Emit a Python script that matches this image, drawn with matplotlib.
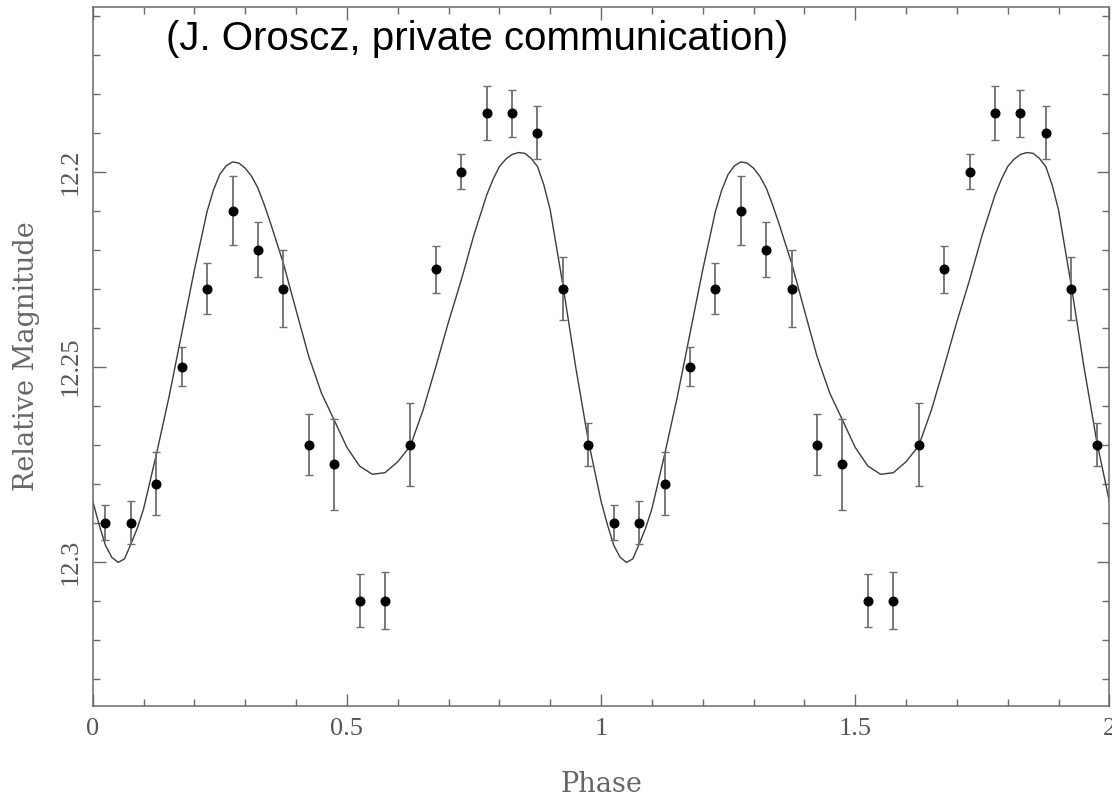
import numpy as np
import matplotlib
matplotlib.use("Agg")
import matplotlib.pyplot as plt
from matplotlib.ticker import MultipleLocator

# Phased photometry: 20 binned points, plotted over two cycles
phase = [0.025, 0.075, 0.125, 0.175, 0.225, 0.275, 0.325, 0.375, 0.425, 0.475,
         0.525, 0.575, 0.625, 0.675, 0.725, 0.775, 0.825, 0.875, 0.925, 0.975]
mag = [12.29, 12.29, 12.28, 12.25, 12.23, 12.21, 12.22, 12.23, 12.27, 12.275,
       12.31, 12.31, 12.27, 12.225, 12.20, 12.185, 12.185, 12.19, 12.23, 12.27]
mag_err = [0.0045, 0.0055, 0.008, 0.005, 0.0065, 0.0088, 0.007, 0.0098, 0.0078, 0.0117,
           0.0068, 0.0074, 0.0107, 0.006, 0.0045, 0.007, 0.006, 0.0068, 0.008, 0.0055]

# Model light curve over one cycle (denser sampling around the extrema)
model_phase = [0.000, 0.0125, 0.025, 0.0375, 0.050, 0.0625, 0.075, 0.0875, 0.100, 0.125,
               0.150, 0.175, 0.200, 0.225, 0.2375, 0.250, 0.2625, 0.275, 0.2875, 0.300,
               0.3125, 0.325, 0.3375, 0.350, 0.375, 0.400, 0.425, 0.450, 0.475, 0.500,
               0.525, 0.550, 0.575, 0.600, 0.625, 0.650, 0.675, 0.700, 0.725, 0.750,
               0.775, 0.7875, 0.800, 0.8125, 0.825, 0.8375, 0.850, 0.8625, 0.875, 0.8875,
               0.900, 0.925, 0.950, 0.975]
model_mag = [12.2845, 12.2905, 12.2958, 12.2989, 12.3002, 12.2993, 12.2955, 12.2915, 12.2865, 12.2726,
             12.2578, 12.2415, 12.2252, 12.2102, 12.2047, 12.2007, 12.1985, 12.1975, 12.1978, 12.1991,
             12.2012, 12.2042, 12.2085, 12.2133, 12.2235, 12.2355, 12.2474, 12.2568, 12.2637, 12.2707,
             12.2755, 12.2776, 12.2772, 12.2744, 12.2703, 12.2611, 12.2500, 12.2385, 12.2278, 12.2162,
             12.2060, 12.2020, 12.1987, 12.1968, 12.1956, 12.1951, 12.1953, 12.1966, 12.1987, 12.2034,
             12.2098, 12.2291, 12.2500, 12.2690]

x_ticks = [0, 0.5, 1, 1.5, 2]
x_ticklabels = ["0", "0.5", "1", "1.5", "2"]
y_ticks = [12.2, 12.25, 12.3]
y_ticklabels = ["12.2", "12.25", "12.3"]

# two cycles of the same phased data
ph2 = np.concatenate([phase, np.array(phase) + 1])
mag2 = np.concatenate([mag, mag])
err2 = np.concatenate([mag_err, mag_err])
mph2 = np.concatenate([model_phase, np.array(model_phase) + 1, [2.0]])
mmag2 = np.concatenate([model_mag, model_mag, [model_mag[0]]])

axis_grey = "#6a6a6a"
text_grey = "#555555"

fig = plt.figure(figsize=(11.12, 7.98), dpi=100)
ax = fig.add_axes([0.0834, 0.1159, 0.9142, 0.8757])

ax.plot(mph2, mmag2, color="#3c3c3c", lw=1.0, zorder=2)
ax.errorbar(ph2, mag2, yerr=err2, fmt="none", ecolor="#6e6e6e",
            elinewidth=1.3, capsize=2.6, capthick=1.0, zorder=3)
ax.plot(ph2, mag2, "o", color="black", ms=6.2, mec="black", zorder=4)

ax.set_xlim(0, 2)
ax.set_ylim(12.3369, 12.1577)

ax.set_xticks(x_ticks)
ax.set_xticklabels(x_ticklabels)
ax.set_yticks(y_ticks)
ax.set_yticklabels(y_ticklabels)
ax.xaxis.set_minor_locator(MultipleLocator(0.1))
ax.yaxis.set_minor_locator(MultipleLocator(0.01))

for s in ax.spines.values():
    s.set_color(axis_grey)
    s.set_linewidth(1.1)

ax.tick_params(which="both", direction="in", top=True, right=True,
               color=axis_grey, width=1.0)
ax.tick_params(which="major", length=9)
ax.tick_params(which="minor", length=5)
ax.tick_params(axis="x", which="major", pad=9)
ax.tick_params(axis="y", which="major", pad=8)

for lab in ax.get_xticklabels():
    lab.set_fontfamily("Liberation Serif")
    lab.set_fontsize(19)
    lab.set_color(text_grey)
for lab in ax.get_yticklabels():
    lab.set_fontfamily("Liberation Serif")
    lab.set_fontsize(19)
    lab.set_color(text_grey)
    lab.set_rotation(90)
    lab.set_va("center")

ax.set_xlabel("Phase", family="DejaVu Serif", fontsize=19.5, color="#666666")
ax.set_ylabel("Relative Magnitude", family="DejaVu Serif", fontsize=19.5, color="#666666")
ax.xaxis.set_label_coords(0.5, -0.0937)
ax.yaxis.set_label_coords(-0.052, 0.5)

fig.text(166 / 1112, 1 - 50 / 798, "(J. Oroscz, private communication)",
         family="Liberation Sans", fontsize=29, color="black",
         ha="left", va="baseline")

fig.savefig("out.png", dpi=100)
